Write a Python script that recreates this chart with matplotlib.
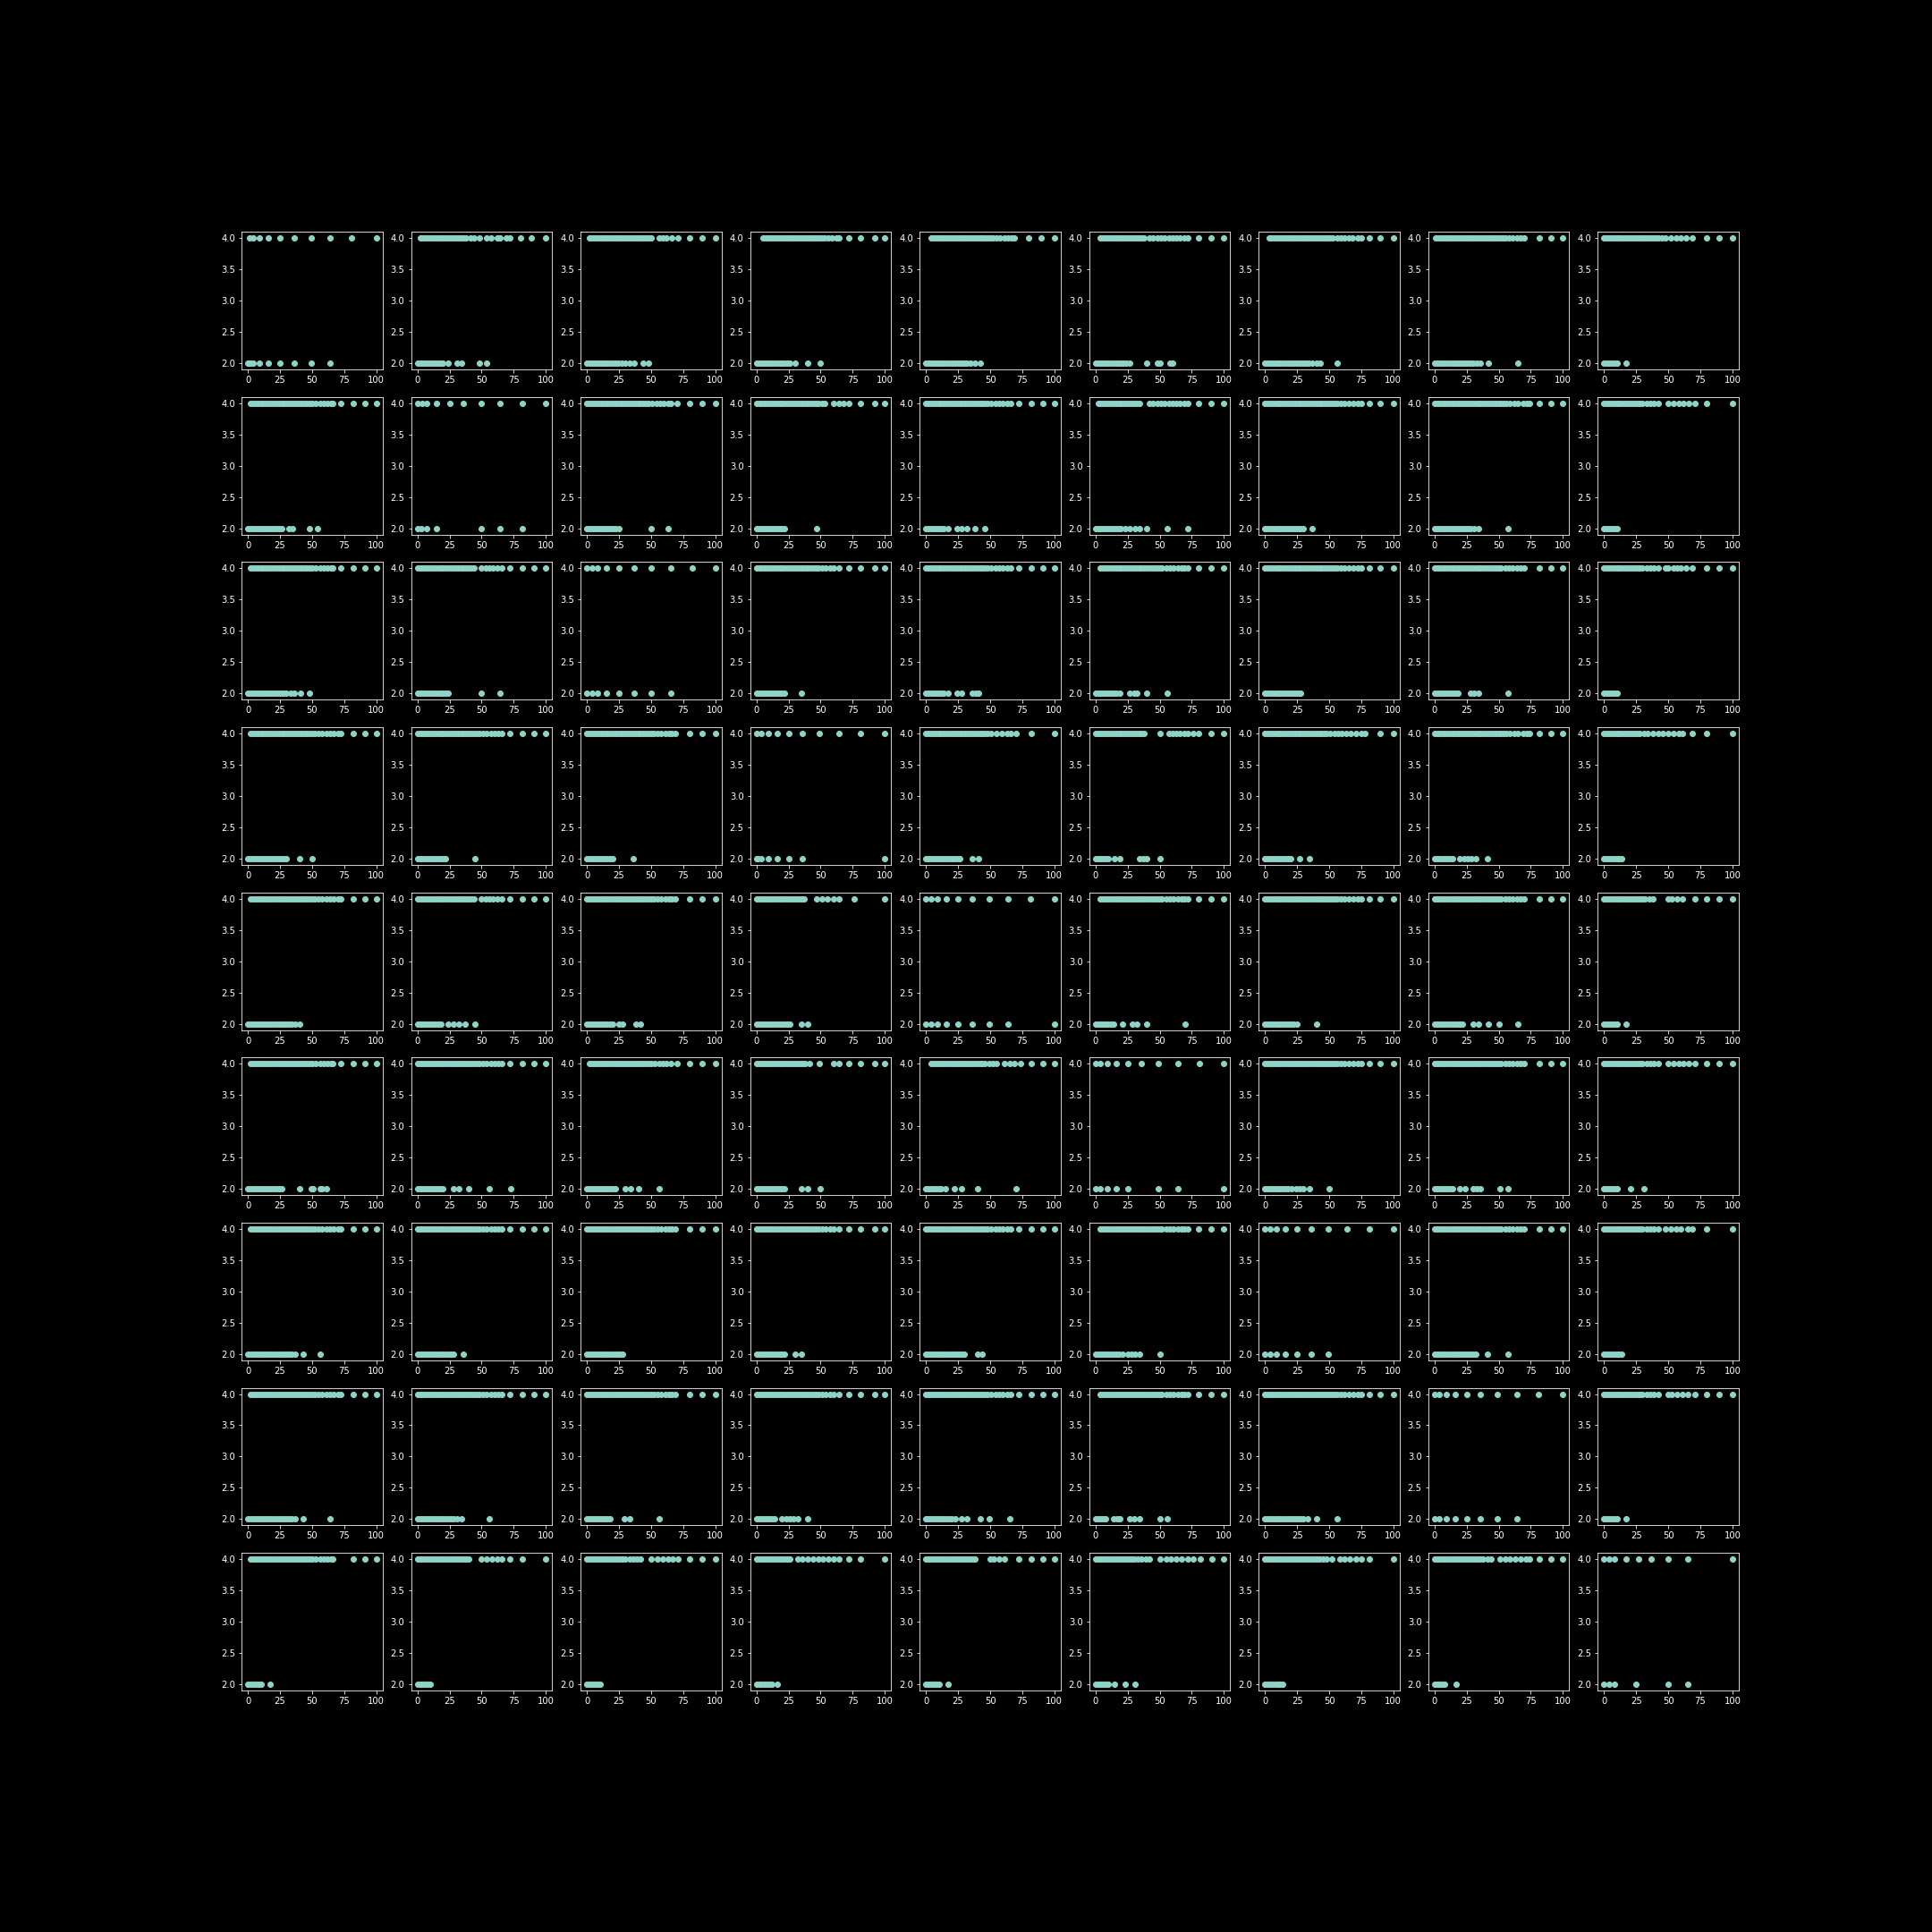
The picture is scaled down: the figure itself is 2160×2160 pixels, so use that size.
import matplotlib.pyplot as plt

# x positions of the points on the y=4 line, one list per panel, row by row
top_r1 = [
    [1, 4, 9, 16, 25, 36, 49, 64, 81, 100],
    [2, 4, 6, 8, 10, 12, 14, 16, 18, 20, 22, 24, 26, 28, 30, 32, 34, 36, 38, 41, 44, 48, 54, 57, 62, 64, 69, 72, 80, 89, 100],
    [2, 4, 6, 8, 10, 12, 14, 16, 18, 20, 22, 24, 26, 28, 30, 32, 34, 36, 38, 40, 42, 44, 46, 48, 50, 56, 59, 62, 66, 71, 80, 90, 100],
    [5, 7, 9, 11, 13, 15, 17, 19, 21, 23, 25, 27, 29, 31, 33, 35, 37, 39, 41, 43, 45, 47, 49, 51, 53, 56, 59, 62, 64, 72, 81, 92, 100],
    [4, 6, 8, 10, 12, 14, 16, 18, 20, 22, 24, 26, 28, 30, 32, 34, 36, 38, 40, 42, 44, 46, 48, 50, 52, 55, 58, 61, 64, 67, 69, 80, 90, 100],
    [4, 6, 8, 10, 12, 14, 16, 18, 20, 22, 24, 26, 28, 30, 32, 34, 36, 38, 42, 45, 48, 51, 54, 57, 60, 63, 66, 69, 72, 80, 90, 100],
    [3, 5, 7, 9, 11, 13, 15, 17, 19, 21, 23, 25, 27, 29, 31, 33, 35, 37, 39, 41, 43, 45, 47, 49, 51, 53, 56, 59, 62, 65, 68, 72, 75, 81, 90, 100],
    [1, 3, 5, 7, 9, 11, 13, 15, 17, 19, 21, 23, 25, 27, 29, 31, 33, 35, 37, 39, 41, 43, 45, 47, 49, 51, 53, 55, 58, 61, 64, 67, 70, 82, 91, 100],
    [0, 2, 4, 6, 8, 10, 12, 14, 16, 18, 20, 22, 24, 26, 28, 30, 32, 34, 36, 38, 40, 42, 45, 48, 52, 56, 60, 64, 69, 80, 90, 100],
]
top_r2 = [
    [2, 4, 6, 8, 10, 12, 14, 16, 18, 20, 22, 24, 26, 28, 30, 32, 34, 36, 38, 40, 42, 44, 46, 48, 50, 53, 56, 59, 62, 65, 66, 72, 82, 91, 100],
    [0, 4, 7, 15, 25, 36, 50, 64, 82, 100],
    [0, 2, 4, 6, 8, 10, 12, 14, 16, 18, 20, 22, 24, 26, 28, 30, 32, 34, 36, 38, 40, 42, 44, 46, 48, 51, 54, 57, 60, 63, 65, 70, 80, 90, 100],
    [0, 2, 4, 6, 8, 10, 12, 14, 16, 18, 20, 22, 24, 26, 28, 30, 32, 34, 36, 38, 40, 42, 44, 46, 48, 51, 53, 60, 64, 68, 72, 81, 92, 100],
    [0, 2, 4, 6, 8, 10, 12, 14, 16, 18, 20, 22, 24, 26, 28, 30, 32, 34, 36, 38, 40, 42, 44, 46, 48, 51, 54, 57, 60, 63, 66, 72, 82, 91, 100],
    [2, 4, 6, 8, 10, 12, 14, 16, 18, 20, 22, 24, 26, 28, 30, 32, 34, 42, 45, 48, 51, 54, 57, 60, 63, 66, 69, 72, 80, 90, 100],
    [0, 2, 4, 6, 8, 10, 12, 14, 16, 18, 20, 22, 24, 26, 28, 30, 32, 34, 36, 38, 40, 42, 44, 46, 48, 50, 52, 54, 56, 59, 62, 65, 69, 72, 75, 81, 90, 100],
    [0, 2, 4, 6, 8, 10, 12, 14, 16, 18, 20, 22, 24, 26, 28, 30, 32, 34, 36, 38, 40, 42, 44, 46, 48, 50, 52, 54, 56, 59, 62, 65, 69, 72, 74, 82, 91, 100],
    [0, 2, 4, 6, 8, 10, 12, 14, 16, 18, 20, 22, 24, 26, 28, 30, 33, 36, 39, 42, 50, 54, 58, 62, 66, 71, 80, 100],
]
top_r3 = [
    [2, 4, 6, 8, 10, 12, 14, 16, 18, 20, 22, 24, 26, 28, 30, 32, 34, 36, 38, 40, 42, 44, 46, 48, 50, 53, 56, 59, 62, 65, 66, 72, 82, 91, 100],
    [0, 2, 4, 6, 8, 10, 12, 14, 16, 18, 20, 22, 24, 26, 28, 30, 32, 34, 36, 38, 40, 42, 44, 50, 53, 56, 59, 62, 66, 72, 82, 91, 100],
    [0, 4, 8, 15, 25, 37, 50, 65, 82, 100],
    [0, 2, 4, 6, 8, 10, 12, 14, 16, 18, 20, 22, 24, 26, 28, 30, 32, 34, 36, 38, 40, 42, 44, 46, 48, 51, 54, 57, 60, 64, 72, 81, 92, 100],
    [0, 2, 4, 6, 8, 10, 12, 14, 16, 18, 20, 22, 24, 26, 28, 30, 32, 34, 36, 38, 40, 42, 44, 46, 48, 51, 54, 57, 60, 63, 66, 72, 82, 91, 100],
    [4, 6, 8, 10, 12, 14, 16, 18, 20, 22, 24, 26, 28, 30, 32, 34, 36, 38, 40, 42, 44, 46, 48, 50, 52, 55, 58, 61, 64, 67, 69, 72, 80, 90, 100],
    [0, 2, 4, 6, 8, 10, 12, 14, 16, 18, 20, 22, 24, 26, 28, 30, 32, 34, 36, 38, 40, 42, 44, 46, 48, 50, 52, 54, 56, 59, 62, 65, 69, 72, 75, 81, 90, 100],
    [0, 2, 4, 6, 8, 10, 12, 14, 16, 18, 20, 22, 24, 26, 28, 30, 32, 34, 36, 38, 40, 42, 44, 46, 48, 50, 52, 55, 58, 61, 64, 67, 70, 82, 91, 100],
    [0, 2, 4, 6, 8, 10, 12, 14, 16, 18, 20, 22, 24, 26, 28, 30, 33, 36, 39, 42, 48, 50, 54, 57, 60, 64, 69, 80, 90, 100],
]
top_r4 = [
    [2, 4, 6, 8, 10, 12, 14, 16, 18, 20, 22, 24, 26, 28, 30, 32, 34, 36, 38, 40, 42, 44, 46, 48, 50, 52, 55, 58, 61, 64, 67, 70, 72, 82, 91, 100],
    [0, 2, 4, 6, 8, 10, 12, 14, 16, 18, 20, 22, 24, 26, 28, 30, 32, 34, 36, 38, 40, 42, 44, 46, 48, 51, 54, 57, 60, 63, 66, 72, 82, 91, 100],
    [0, 2, 4, 6, 8, 10, 12, 14, 16, 18, 20, 22, 24, 26, 28, 30, 32, 34, 36, 38, 40, 42, 44, 46, 48, 50, 52, 55, 58, 61, 64, 66, 69, 80, 90, 100],
    [0, 4, 9, 16, 25, 36, 49, 64, 81, 100],
    [0, 2, 4, 6, 8, 10, 12, 14, 16, 18, 20, 22, 24, 26, 28, 30, 32, 34, 36, 38, 40, 42, 44, 46, 48, 51, 55, 59, 63, 66, 70, 82, 100],
    [0, 2, 4, 6, 8, 10, 12, 14, 16, 18, 20, 22, 24, 26, 28, 30, 32, 34, 36, 38, 50, 57, 60, 63, 66, 69, 72, 76, 80, 90, 100],
    [0, 2, 4, 6, 8, 10, 12, 14, 16, 18, 20, 22, 24, 26, 28, 30, 32, 34, 36, 38, 40, 42, 44, 46, 48, 51, 54, 57, 60, 63, 67, 71, 75, 78, 90, 100],
    [0, 2, 4, 6, 8, 10, 12, 14, 16, 18, 20, 22, 24, 26, 28, 30, 32, 34, 36, 38, 40, 42, 44, 46, 48, 50, 52, 54, 56, 59, 62, 65, 69, 72, 74, 82, 91, 100],
    [0, 2, 4, 6, 8, 10, 12, 14, 16, 18, 20, 22, 24, 26, 28, 31, 34, 38, 42, 46, 50, 54, 58, 61, 69, 80, 100],
]
top_r5 = [
    [2, 4, 6, 8, 10, 12, 14, 16, 18, 20, 22, 24, 26, 28, 30, 32, 34, 36, 38, 40, 42, 44, 46, 48, 50, 52, 55, 58, 61, 64, 67, 70, 72, 82, 91, 100],
    [0, 2, 4, 6, 8, 10, 12, 14, 16, 18, 20, 22, 24, 26, 28, 30, 32, 34, 36, 38, 40, 42, 44, 50, 53, 56, 59, 62, 66, 72, 82, 91, 100],
    [0, 2, 4, 6, 8, 10, 12, 14, 16, 18, 20, 22, 24, 26, 28, 30, 32, 34, 36, 38, 40, 42, 44, 46, 48, 50, 52, 55, 58, 61, 64, 66, 69, 80, 90, 100],
    [0, 2, 4, 6, 8, 10, 12, 14, 16, 18, 20, 22, 24, 26, 28, 30, 32, 34, 36, 37, 47, 51, 55, 60, 64, 76, 100],
    [0, 4, 9, 16, 25, 36, 49, 64, 81, 100],
    [4, 6, 8, 10, 12, 14, 16, 18, 20, 22, 24, 26, 28, 30, 32, 34, 36, 38, 40, 42, 44, 46, 48, 50, 52, 55, 58, 61, 64, 67, 69, 72, 80, 90, 100],
    [0, 2, 4, 6, 8, 10, 12, 14, 16, 18, 20, 22, 24, 26, 28, 30, 32, 34, 36, 38, 40, 42, 44, 46, 48, 50, 52, 54, 56, 59, 62, 65, 69, 72, 75, 81, 90, 100],
    [0, 2, 4, 6, 8, 10, 12, 14, 16, 18, 20, 22, 24, 26, 28, 30, 32, 34, 36, 38, 40, 42, 44, 46, 48, 50, 52, 55, 58, 61, 64, 67, 70, 82, 91, 100],
    [0, 2, 4, 6, 8, 10, 12, 14, 16, 18, 20, 22, 24, 26, 28, 30, 32, 35, 38, 50, 53, 57, 61, 71, 80, 90, 100],
]
top_r6 = [
    [2, 4, 6, 8, 10, 12, 14, 16, 18, 20, 22, 24, 26, 28, 30, 32, 34, 36, 38, 40, 42, 44, 46, 48, 50, 53, 56, 59, 62, 65, 66, 72, 82, 91, 100],
    [0, 2, 4, 6, 8, 10, 12, 14, 16, 18, 20, 22, 24, 26, 28, 30, 32, 34, 36, 38, 40, 42, 44, 46, 48, 51, 54, 57, 60, 63, 66, 72, 82, 91, 100],
    [2, 4, 6, 8, 10, 12, 14, 16, 18, 20, 22, 24, 26, 28, 30, 32, 34, 36, 38, 40, 42, 44, 46, 48, 50, 53, 56, 59, 62, 65, 70, 80, 90, 100],
    [0, 2, 4, 6, 8, 10, 12, 14, 16, 18, 20, 22, 24, 26, 28, 30, 32, 34, 36, 38, 41, 49, 60, 64, 72, 81, 92, 100],
    [4, 6, 8, 10, 12, 14, 16, 18, 20, 22, 24, 26, 28, 30, 32, 34, 36, 38, 40, 42, 44, 46, 49, 52, 55, 61, 65, 69, 74, 82, 91, 100],
    [0, 4, 9, 16, 25, 36, 49, 64, 81, 100],
    [0, 2, 4, 6, 8, 10, 12, 14, 16, 18, 20, 22, 24, 26, 28, 30, 32, 34, 36, 38, 40, 42, 44, 46, 48, 50, 52, 54, 56, 59, 62, 65, 69, 72, 75, 81, 90, 100],
    [0, 2, 4, 6, 8, 10, 12, 14, 16, 18, 20, 22, 24, 26, 28, 30, 32, 34, 36, 38, 40, 42, 44, 46, 48, 50, 52, 55, 58, 61, 64, 67, 70, 82, 91, 100],
    [0, 2, 4, 6, 8, 10, 12, 14, 16, 18, 20, 22, 24, 26, 28, 30, 33, 36, 39, 42, 50, 54, 58, 62, 66, 71, 80, 90, 100],
]
top_r7 = [
    [2, 4, 6, 8, 10, 12, 14, 16, 18, 20, 22, 24, 26, 28, 30, 32, 34, 36, 38, 40, 42, 44, 46, 48, 50, 52, 55, 58, 61, 64, 67, 70, 72, 82, 91, 100],
    [0, 2, 4, 6, 8, 10, 12, 14, 16, 18, 20, 22, 24, 26, 28, 30, 32, 34, 36, 38, 40, 42, 44, 46, 48, 51, 54, 57, 60, 63, 66, 72, 82, 91, 100],
    [0, 2, 4, 6, 8, 10, 12, 14, 16, 18, 20, 22, 24, 26, 28, 30, 32, 34, 36, 38, 40, 42, 44, 46, 48, 50, 52, 55, 58, 61, 64, 66, 69, 80, 90, 100],
    [0, 2, 4, 6, 8, 10, 12, 14, 16, 18, 20, 22, 24, 26, 28, 30, 32, 34, 36, 38, 40, 42, 44, 46, 48, 51, 54, 57, 60, 64, 72, 81, 92, 100],
    [0, 2, 4, 6, 8, 10, 12, 14, 16, 18, 20, 22, 24, 26, 28, 30, 32, 34, 36, 38, 40, 42, 44, 46, 48, 51, 54, 57, 60, 63, 66, 72, 82, 91, 100],
    [4, 6, 8, 10, 12, 14, 16, 18, 20, 22, 24, 26, 28, 30, 32, 34, 36, 38, 40, 42, 44, 46, 48, 50, 52, 55, 58, 61, 64, 67, 69, 72, 80, 90, 100],
    [0, 4, 9, 16, 25, 36, 49, 64, 81, 100],
    [0, 2, 4, 6, 8, 10, 12, 14, 16, 18, 20, 22, 24, 26, 28, 30, 32, 34, 36, 38, 40, 42, 44, 46, 48, 50, 52, 55, 58, 61, 64, 67, 70, 82, 91, 100],
    [0, 2, 4, 6, 8, 10, 12, 14, 16, 18, 20, 22, 24, 26, 28, 30, 33, 36, 39, 42, 48, 52, 56, 60, 65, 69, 80, 100],
]
top_r8 = [
    [2, 4, 6, 8, 10, 12, 14, 16, 18, 20, 22, 24, 26, 28, 30, 32, 34, 36, 38, 40, 42, 44, 46, 48, 50, 52, 55, 58, 61, 64, 67, 70, 72, 82, 91, 100],
    [0, 2, 4, 6, 8, 10, 12, 14, 16, 18, 20, 22, 24, 26, 28, 30, 32, 34, 36, 38, 40, 42, 44, 46, 48, 51, 54, 57, 60, 63, 66, 72, 82, 91, 100],
    [0, 2, 4, 6, 8, 10, 12, 14, 16, 18, 20, 22, 24, 26, 28, 30, 32, 34, 36, 38, 40, 42, 44, 46, 48, 50, 52, 55, 58, 61, 64, 66, 69, 80, 90, 100],
    [0, 2, 4, 6, 8, 10, 12, 14, 16, 18, 20, 22, 24, 26, 28, 30, 32, 34, 36, 38, 40, 42, 44, 46, 48, 51, 54, 57, 60, 64, 72, 81, 92, 100],
    [0, 2, 4, 6, 8, 10, 12, 14, 16, 18, 20, 22, 24, 26, 28, 30, 32, 34, 36, 38, 40, 42, 44, 46, 48, 51, 54, 57, 60, 63, 66, 72, 82, 91, 100],
    [4, 6, 8, 10, 12, 14, 16, 18, 20, 22, 24, 26, 28, 30, 32, 34, 36, 38, 40, 42, 44, 46, 48, 50, 52, 55, 58, 61, 64, 67, 69, 72, 80, 90, 100],
    [0, 2, 4, 6, 8, 10, 12, 14, 16, 18, 20, 22, 24, 26, 28, 30, 32, 34, 36, 38, 40, 42, 44, 46, 48, 50, 52, 54, 56, 59, 62, 65, 69, 72, 75, 81, 90, 100],
    [0, 4, 9, 16, 25, 36, 49, 64, 81, 100],
    [0, 2, 4, 6, 8, 10, 12, 14, 16, 18, 20, 22, 24, 26, 28, 30, 33, 36, 39, 42, 50, 53, 57, 61, 65, 71, 80, 90, 100],
]
top_r9 = [
    [2, 4, 6, 8, 10, 12, 14, 16, 18, 20, 22, 24, 26, 28, 30, 32, 34, 36, 38, 40, 42, 44, 46, 48, 50, 53, 56, 59, 62, 65, 66, 82, 91, 100],
    [0, 2, 4, 6, 8, 10, 12, 14, 16, 18, 20, 22, 24, 26, 28, 30, 32, 34, 36, 38, 40, 50, 54, 58, 62, 66, 72, 82, 100],
    [0, 2, 4, 6, 8, 10, 12, 14, 16, 18, 20, 22, 24, 26, 28, 30, 33, 36, 39, 42, 50, 55, 59, 63, 67, 71, 80, 90, 100],
    [0, 2, 4, 6, 8, 10, 12, 14, 16, 18, 20, 22, 24, 26, 32, 36, 40, 44, 48, 52, 56, 60, 64, 72, 81, 100],
    [0, 2, 4, 6, 8, 10, 12, 14, 16, 18, 20, 22, 24, 26, 28, 30, 32, 34, 36, 38, 50, 53, 57, 61, 72, 82, 91, 100],
    [0, 2, 4, 6, 8, 10, 12, 14, 16, 18, 20, 22, 24, 26, 28, 30, 33, 36, 39, 42, 50, 55, 59, 63, 67, 72, 76, 82, 91, 100],
    [0, 2, 4, 6, 8, 10, 12, 14, 16, 18, 20, 22, 24, 26, 28, 30, 32, 34, 36, 38, 40, 42, 45, 48, 52, 58, 62, 66, 71, 75, 81, 100],
    [0, 2, 4, 6, 8, 10, 12, 14, 16, 18, 20, 22, 24, 26, 28, 30, 32, 34, 36, 38, 41, 44, 51, 55, 59, 63, 67, 71, 74, 82, 91, 100],
    [0, 4, 8, 17, 27, 37, 50, 65, 100],
]

# x positions of the points on the y=2 line
bot_r1 = [
    [0, 1, 2, 4, 9, 16, 25, 36, 49, 64],
    [0, 2, 4, 6, 8, 10, 12, 14, 16, 18, 20, 24, 31, 34, 48, 54],
    [0, 2, 4, 6, 8, 10, 12, 14, 16, 18, 20, 22, 24, 27, 30, 33, 37, 44, 48],
    [0, 2, 4, 6, 8, 10, 12, 14, 16, 18, 20, 22, 24, 26, 30, 40, 50],
    [0, 2, 4, 6, 8, 10, 12, 14, 16, 18, 20, 22, 24, 26, 28, 30, 32, 35, 38, 42],
    [0, 2, 4, 6, 8, 10, 12, 14, 16, 18, 20, 22, 24, 27, 40, 48, 50, 58, 60],
    [0, 2, 4, 6, 8, 10, 12, 14, 16, 18, 20, 22, 24, 26, 28, 30, 32, 34, 37, 40, 43, 56],
    [0, 2, 4, 6, 8, 10, 12, 14, 16, 18, 20, 22, 24, 26, 28, 30, 33, 36, 42, 65],
    [0, 2, 4, 6, 8, 10, 17],
]
bot_r2 = [
    [0, 2, 4, 6, 8, 10, 12, 14, 16, 18, 20, 22, 24, 26, 32, 35, 48, 54],
    [0, 3, 7, 15, 50, 64, 82],
    [0, 2, 4, 6, 8, 10, 12, 14, 16, 18, 20, 22, 25, 50, 63],
    [0, 2, 4, 6, 8, 10, 12, 14, 16, 18, 20, 22, 47],
    [0, 2, 4, 6, 8, 10, 12, 14, 17, 24, 28, 32, 38, 46],
    [0, 2, 4, 6, 8, 10, 12, 14, 16, 18, 20, 23, 27, 31, 34, 40, 56, 72],
    [0, 2, 4, 6, 8, 10, 12, 14, 16, 18, 20, 22, 24, 26, 28, 30, 37],
    [0, 2, 4, 6, 8, 10, 12, 14, 16, 18, 20, 22, 24, 26, 28, 31, 34, 57],
    [0, 2, 4, 6, 8, 10],
]
bot_r3 = [
    [0, 2, 4, 6, 8, 10, 12, 14, 16, 18, 20, 22, 24, 26, 28, 30, 33, 36, 41, 48],
    [0, 2, 4, 6, 8, 10, 12, 14, 16, 18, 20, 22, 24, 50, 64],
    [0, 4, 8, 15, 25, 37, 50, 65],
    [0, 2, 4, 6, 8, 10, 12, 14, 16, 18, 20, 22, 35],
    [0, 2, 4, 6, 8, 10, 12, 14, 17, 24, 28, 36, 39, 41],
    [0, 2, 4, 6, 8, 10, 12, 14, 16, 19, 27, 30, 32, 40, 56],
    [0, 2, 4, 6, 8, 10, 12, 14, 16, 18, 20, 22, 24, 26, 28],
    [0, 2, 4, 6, 8, 10, 12, 14, 16, 18, 28, 31, 34, 57],
    [0, 2, 4, 6, 8, 10],
]
bot_r4 = [
    [0, 2, 4, 6, 8, 10, 12, 14, 16, 18, 20, 22, 24, 26, 28, 30, 40, 50],
    [0, 2, 4, 6, 8, 10, 12, 14, 16, 18, 20, 22, 45],
    [0, 2, 4, 6, 8, 10, 12, 14, 16, 18, 20, 36],
    [0, 1, 4, 9, 16, 25, 36, 100],
    [0, 2, 4, 6, 8, 10, 12, 14, 16, 18, 20, 22, 24, 26, 36, 41],
    [0, 2, 4, 6, 8, 10, 15, 19, 34, 37, 40, 50],
    [0, 2, 4, 6, 8, 10, 12, 14, 16, 18, 20, 27, 35],
    [0, 2, 4, 6, 8, 10, 12, 14, 20, 23, 26, 29, 32, 41],
    [0, 2, 4, 6, 8, 10, 12, 14],
]
bot_r5 = [
    [0, 2, 4, 6, 8, 10, 12, 14, 16, 18, 20, 22, 24, 26, 28, 30, 32, 34, 37, 40],
    [0, 2, 4, 6, 8, 10, 12, 14, 16, 18, 24, 28, 32, 37, 45],
    [0, 2, 4, 6, 8, 10, 12, 14, 16, 18, 20, 25, 28, 38, 42],
    [0, 2, 4, 6, 8, 10, 12, 14, 16, 18, 20, 22, 24, 26, 35, 40],
    [0, 4, 9, 16, 25, 36, 49, 64, 100],
    [0, 2, 4, 6, 8, 10, 12, 14, 21, 29, 32, 40, 70],
    [0, 2, 4, 6, 8, 10, 12, 14, 16, 18, 20, 22, 25, 40],
    [0, 2, 4, 6, 8, 10, 12, 14, 16, 18, 20, 22, 30, 34, 42, 50, 65],
    [0, 2, 4, 6, 8, 10, 17],
]
bot_r6 = [
    [0, 2, 4, 6, 8, 10, 12, 14, 16, 18, 20, 22, 24, 26, 40, 49, 51, 56, 58, 61],
    [0, 2, 4, 6, 8, 10, 12, 14, 16, 18, 20, 28, 32, 40, 56, 73],
    [0, 2, 4, 6, 8, 10, 12, 14, 16, 18, 20, 22, 30, 34, 40, 56],
    [0, 2, 4, 6, 8, 10, 12, 14, 16, 18, 20, 22, 35, 40, 50],
    [0, 2, 4, 6, 8, 10, 12, 15, 22, 28, 40, 70],
    [0, 4, 9, 16, 25, 49, 64, 100],
    [0, 2, 4, 6, 8, 10, 12, 14, 16, 18, 21, 24, 27, 30, 35, 50],
    [0, 2, 4, 6, 8, 10, 12, 14, 20, 24, 30, 33, 36, 51, 57],
    [0, 2, 4, 6, 8, 10, 21, 31],
]
bot_r7 = [
    [0, 2, 4, 6, 8, 10, 12, 14, 16, 18, 20, 22, 24, 26, 28, 30, 32, 34, 37, 43, 56],
    [0, 2, 4, 6, 8, 10, 12, 14, 16, 18, 20, 22, 24, 26, 28, 36],
    [0, 2, 4, 6, 8, 10, 12, 14, 16, 18, 20, 22, 24, 26, 28],
    [0, 2, 4, 6, 8, 10, 12, 14, 16, 18, 20, 22, 30, 35],
    [0, 2, 4, 6, 8, 10, 12, 14, 16, 18, 20, 22, 24, 26, 28, 30, 40, 44],
    [0, 2, 4, 6, 8, 10, 12, 14, 16, 18, 21, 25, 28, 31, 34, 50],
    [0, 4, 9, 16, 25, 36, 49],
    [0, 2, 4, 6, 8, 10, 12, 14, 16, 18, 20, 22, 24, 26, 28, 30, 32, 41, 57],
    [0, 2, 4, 6, 8, 10, 12, 14],
]
bot_r8 = [
    [0, 2, 4, 6, 8, 10, 12, 14, 16, 18, 20, 22, 24, 26, 28, 30, 32, 34, 37, 43, 64],
    [0, 2, 4, 6, 8, 10, 12, 14, 16, 18, 20, 22, 24, 26, 28, 31, 34, 56],
    [0, 2, 4, 6, 8, 10, 12, 14, 16, 18, 29, 33, 56],
    [0, 2, 4, 6, 8, 10, 12, 14, 20, 23, 26, 29, 32, 40],
    [0, 2, 4, 6, 8, 10, 12, 14, 16, 18, 20, 23, 28, 32, 42, 49, 65],
    [0, 2, 4, 6, 8, 14, 17, 19, 27, 30, 34, 50, 56],
    [0, 2, 4, 6, 8, 10, 12, 14, 16, 18, 20, 22, 24, 26, 28, 30, 33, 40, 56],
    [0, 4, 9, 16, 25, 36, 49, 64],
    [0, 2, 4, 6, 8, 10, 17],
]
bot_r9 = [
    [0, 2, 4, 6, 8, 10, 17],
    [0, 2, 4, 6, 8, 10],
    [0, 2, 4, 6, 8, 10],
    [0, 2, 4, 6, 8, 10, 12, 16],
    [0, 2, 4, 6, 8, 10, 17],
    [0, 2, 4, 6, 8, 10, 15, 23, 31],
    [0, 2, 4, 6, 8, 10, 12, 14],
    [0, 2, 4, 6, 8, 17],
    [0, 4, 8, 25, 50, 65],
]

top_rows = [top_r1, top_r2, top_r3, top_r4, top_r5, top_r6, top_r7, top_r8, top_r9]
bot_rows = [bot_r1, bot_r2, bot_r3, bot_r4, bot_r5, bot_r6, bot_r7, bot_r8, bot_r9]

plt.style.use('dark_background')
fig, axs = plt.subplots(9, 9, figsize=(30, 30))
fig.subplots_adjust(bottom=0.125)

for r in range(9):
    for c in range(9):
        ax = axs[r, c]
        xs = top_rows[r][c] + bot_rows[r][c]
        ys = [4] * len(top_rows[r][c]) + [2] * len(bot_rows[r][c])
        ax.scatter(xs, ys)
        ax.set_xticks([0, 25, 50, 75, 100])

plt.savefig('out.png', dpi=72)
